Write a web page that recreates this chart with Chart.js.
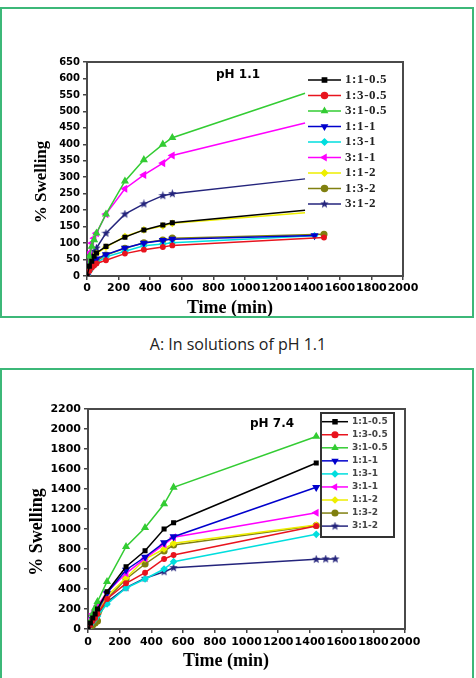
<!DOCTYPE html>
<html>
<head>
<meta charset="utf-8">
<script src="https://cdn.jsdelivr.net/npm/chart.js@4.4.0/dist/chart.umd.min.js"></script>
<style>
body{margin:0;background:#fff;width:476px;height:678px;overflow:hidden;position:relative;}
.panel{position:absolute;left:0;width:474px;box-sizing:border-box;border:2px solid #3cb878;}
#panel-a{top:7px;height:311px;}
#panel-b{top:368px;height:330px;}
canvas{position:absolute;left:0;}
#chart-a{top:10px;}
#chart-b{top:370px;}
#caption{position:absolute;top:333px;left:0;width:476px;text-align:center;font:16px "Open Sans";line-height:22px;color:#222;}
</style>
</head>
<body>
<div class="panel" id="panel-a"></div>
<div id="caption">A: In solutions of pH 1.1</div>
<div class="panel" id="panel-b"></div>
<canvas id="chart-a" width="470" height="306"></canvas>
<canvas id="chart-b" width="470" height="306"></canvas>
<script>
// sampling times (min), shared by every series
var times = [0, 15, 30, 45, 60, 120, 240, 360, 480, 540];
var xTicks = [0, 200, 400, 600, 800, 1000, 1200, 1400, 1600, 1800, 2000];

// pH 1.1
var mixesA = ['1:1-0.5', '1:3-0.5', '3:1-0.5', '1:1-1', '1:3-1', '3:1-1', '1:1-2', '1:3-2', '3:1-2'];
var lastTimeA = [1380, 1500, 1380, 1440, 1440, 1380, 1380, 1500, 1380];
var acid_1_1_05 = [0, 30, 45, 60, 70, 90, 118, 140, 155, 162, 200];
var acid_1_3_05 = [0, 15, 25, 32, 38, 48, 68, 80, 88, 93, 117];
var acid_3_1_05 = [0, 60, 90, 110, 130, 188, 288, 353, 400, 420, 555];
var acid_1_1_1 = [0, 25, 35, 45, 52, 65, 85, 100, 108, 112, 123];
var acid_1_3_1 = [0, 15, 25, 35, 40, 58, 75, 92, 97, 101, 122];
var acid_3_1_1 = [0, 70, 100, 115, 130, 188, 265, 307, 343, 366, 465];
var acid_1_1_2 = [0, 30, 45, 55, 68, 88, 120, 140, 152, 160, 192];
var acid_1_3_2 = [0, 20, 30, 38, 45, 64, 84, 101, 109, 115, 127];
var acid_3_1_2 = [0, 40, 60, 75, 85, 130, 188, 219, 244, 250, 295];

// pH 7.4
var mixesB = ['1:1-0.5', '1:3-0.5', '3:1-0.5', '1:1-1', '1:3-1', '3:1-1', '1:1-2', '1:3-2', '3:1-2'];
var lateTimesB = [1440, 1500, 1560];
var base_1_1_05 = [0, 60, 110, 150, 200, 373, 623, 783, 1000, 1063, 1660];
var base_1_3_05 = [0, 40, 80, 110, 150, 300, 457, 563, 700, 740, 1030];
var base_3_1_05 = [0, 80, 150, 210, 273, 473, 823, 1013, 1250, 1417, 1925];
var base_1_1_1 = [0, 50, 100, 140, 180, 360, 590, 720, 863, 923, 1417];
var base_1_3_1 = [0, 40, 70, 100, 130, 250, 410, 500, 600, 673, 947];
var base_3_1_1 = [0, 100, 150, 180, 230, 367, 557, 707, 847, 917, 1163];
var base_1_1_2 = [0, 50, 90, 120, 160, 330, 510, 700, 800, 857, 1040];
var base_1_3_2 = [0, 20, 40, 60, 80, 300, 500, 650, 780, 840, 1035];
var base_3_1_2 = [0, 40, 80, 110, 140, 270, 413, 507, 573, 613, 697, 700, 700];

var colors = ['#000000', '#e8141e', '#33cc33', '#0000cc', '#00dede', '#ff00ff', '#eeee00', '#808010', '#24247c'];

function _star(color){
	var c = document.createElement('canvas');
	c.width = 9; c.height = 9;
	var g = c.getContext('2d');
	g.fillStyle = color;
	g.beginPath();
	for (var i = 0; i < 10; i++) {
		var r = i % 2 ? 1.9 : 4.5;
		var a = -Math.PI / 2 + i * Math.PI / 5;
		g.lineTo(4.5 + r * Math.cos(a), 4.5 + r * Math.sin(a));
	}
	g.closePath();
	g.fill();
	return c;
}

var markers = ['rect', 'circle', 'triangle', 'triangle', 'rectRot', 'triangle', 'rectRot', 'circle', _star(colors[8])];
var rotations = [0, 0, 0, 180, 0, 270, 0, 0, 0];
var radii = [2.5, 2.2, 3.2, 3.2, 2.8, 3.2, 2.8, 2.8, 4];

function _datasets(labels, series, timeFor){
	return series.map(function(vals, i){
		return {
			label: labels[i],
			data: vals.map(function(v, k){ return {x: timeFor(i, k), y: v}; }),
			borderColor: colors[i],
			backgroundColor: colors[i],
			pointBackgroundColor: colors[i],
			pointBorderColor: colors[i],
			pointStyle: markers[i],
			pointRotation: rotations[i],
			pointRadius: radii[i],
			borderWidth: 1.5,
			tension: 0
		};
	});
}

function _drawLegend(chart, L){
	var ctx = chart.ctx;
	ctx.save();
	if (L.box) {
		ctx.strokeStyle = '#333';
		ctx.lineWidth = 2;
		ctx.strokeRect(L.box[0], L.box[1], L.box[2], L.box[3]);
	}
	chart.data.datasets.forEach(function(ds, i){
		var y = L.y + i * L.step;
		ctx.strokeStyle = ds.borderColor;
		ctx.lineWidth = 1.5;
		ctx.beginPath();
		ctx.moveTo(L.x, y);
		ctx.lineTo(L.x + L.len, y);
		ctx.stroke();
		ctx.fillStyle = ds.borderColor;
		Chart.helpers.drawPoint(ctx, {pointStyle: ds.pointStyle, rotation: ds.pointRotation, radius: L.r, borderWidth: 1}, L.x + L.len / 2, y);
		ctx.fillStyle = L.color;
		ctx.font = L.font;
		if ('letterSpacing' in ctx) ctx.letterSpacing = L.spacing;
		ctx.textAlign = 'left';
		ctx.textBaseline = 'middle';
		ctx.fillText(ds.label, L.x + L.len + L.gap, y);
	});
	ctx.restore();
}

function _decor(s){
	return {
		id: 'decor',
		beforeDatasetsDraw: function(chart){
			var ctx = chart.ctx, a = chart.chartArea;
			ctx.save();
			ctx.strokeStyle = '#4a4a4a';
			ctx.lineWidth = 2;
			ctx.strokeRect(a.left, a.top, a.right - a.left, a.bottom - a.top);
			ctx.restore();
		},
		afterDraw: function(chart){
			var ctx = chart.ctx;
			ctx.save();
			ctx.fillStyle = '#000';
			ctx.textAlign = 'center';
			ctx.textBaseline = 'middle';
			ctx.font = 'bold 12px "DejaVu Sans"';
			ctx.fillText(s.heading, s.head[0], s.head[1]);
			ctx.font = 'bold 18px "Liberation Serif"';
			ctx.fillText('Time (min)', s.xTitle[0], s.xTitle[1]);
			ctx.translate(s.yTitle[0], s.yTitle[1]);
			ctx.rotate(-Math.PI / 2);
			ctx.font = 'bold ' + s.ySize + 'px "Liberation Serif"';
			ctx.fillText('% Swelling', 0, 0);
			ctx.restore();
			_drawLegend(chart, s.legend);
		}
	};
}

function _plain(v){ return String(v); }

function _options(s){
	return {
		responsive: false,
		animation: false,
		devicePixelRatio: 1,
		layout: {padding: {top: s.top, right: s.right, left: 0, bottom: 0}},
		plugins: {legend: {display: false}, tooltip: {enabled: false}},
		scales: {
			x: {
				type: 'linear', min: 0, max: 2000,
				afterFit: function(sc){ sc.height = s.xHeight; },
				afterBuildTicks: function(sc){ sc.ticks = xTicks.map(function(v){ return {value: v}; }); },
				ticks: {autoSkip: false, maxRotation: 0, padding: s.xPad, color: '#000', callback: _plain,
					font: {family: 'DejaVu Sans', weight: 'bold', size: 11}},
				grid: {drawOnChartArea: false, tickLength: 4, color: '#444', lineWidth: 1.5},
				border: {display: false}
			},
			y: {
				min: 0, max: s.yMax,
				afterFit: function(sc){ sc.width = s.yWidth; },
				ticks: {stepSize: s.yStep, autoSkip: false, padding: 3, color: '#000', callback: _plain,
					font: {family: 'DejaVu Sans', weight: 'bold', size: s.tickSize}},
				grid: {drawOnChartArea: false, tickLength: 4, color: '#444', lineWidth: 1.5},
				border: {display: false}
			}
		}
	};
}

function _createChartA(){
	var series = [acid_1_1_05, acid_1_3_05, acid_3_1_05, acid_1_1_1, acid_1_3_1, acid_3_1_1, acid_1_1_2, acid_1_3_2, acid_3_1_2];
	var ds = _datasets(mixesA, series, function(i, k){ return k < times.length ? times[k] : lastTimeA[i]; });
	ds.forEach(function(d, i){
		// runs that stop short of 1400 min end without a marker
		d.pointRadius = function(c){ return (c.dataIndex === times.length && lastTimeA[i] < 1400) ? 0 : radii[i]; };
	});
	new Chart(document.getElementById('chart-a'), {
		type: 'line',
		data: {datasets: ds},
		options: _options({top: 52, right: 67, xHeight: 40, yWidth: 87, xPad: 2, yMax: 650, yStep: 50, tickSize: 10}),
		plugins: [_decor({
			heading: 'pH 1.1', head: [238, 65],
			xTitle: [230, 298], yTitle: [42, 172], ySize: 17,
			legend: {x: 308, y: 70, step: 15.5, len: 33, gap: 4, r: 3, color: '#222', font: 'bold 13px "Liberation Serif"', spacing: '0.6px'}
		})]
	});
}

function _createChartB(){
	var series = [base_1_1_05, base_1_3_05, base_3_1_05, base_1_1_1, base_1_3_1, base_3_1_1, base_1_1_2, base_1_3_2, base_3_1_2];
	var ds = _datasets(mixesB, series, function(i, k){ return k < times.length ? times[k] : lateTimesB[k - times.length]; });
	new Chart(document.getElementById('chart-b'), {
		type: 'line',
		data: {datasets: ds},
		options: _options({top: 39, right: 65, xHeight: 47, yWidth: 88, xPad: 3, yMax: 2200, yStep: 200, tickSize: 11}),
		plugins: [_decor({
			heading: 'pH 7.4', head: [272, 54],
			xTitle: [226, 291], yTitle: [37, 162], ySize: 18,
			legend: {box: [321, 43, 73, 124], x: 322, y: 51.7, step: 13.05, len: 26, gap: 4, r: 2.8, color: '#444', font: 'bold 9px "DejaVu Sans"', spacing: '0px'}
		})]
	});
}

_createChartA();
_createChartB();
</script>
</body>
</html>
